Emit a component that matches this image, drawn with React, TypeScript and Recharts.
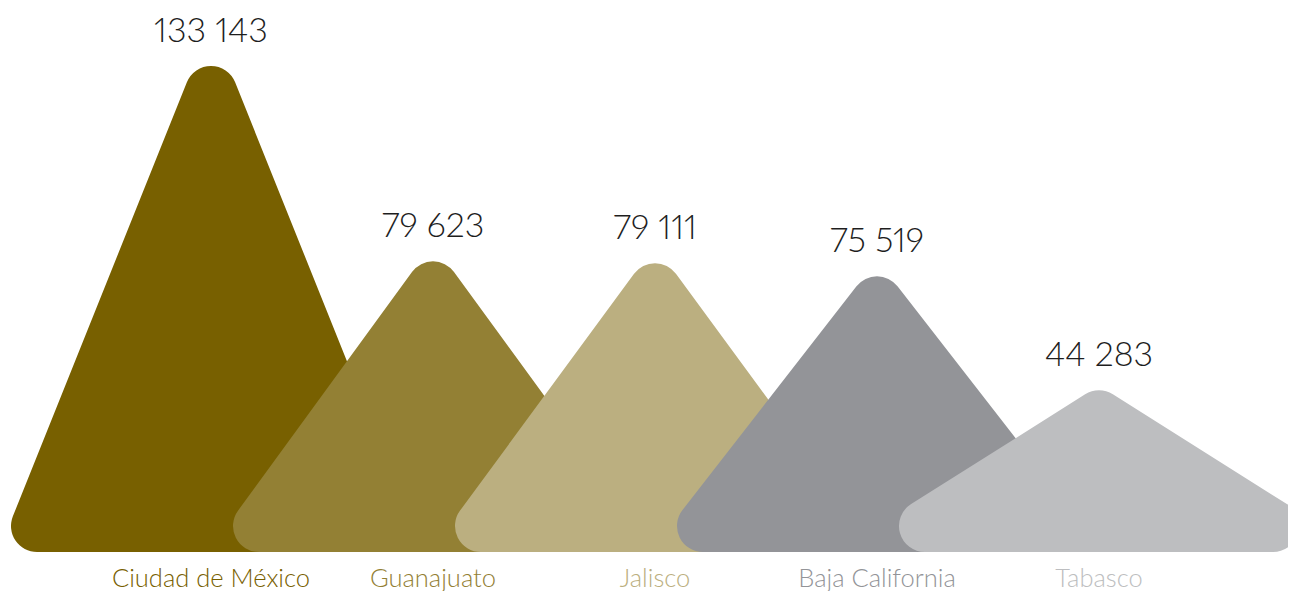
import React from 'react';
import { BarChart, Bar, XAxis, YAxis, LabelList } from 'recharts';

const categories = ['Ciudad de México', 'Guanajuato', 'Jalisco', 'Baja California', 'Tabasco'];
const values = [133143, 79623, 79111, 75519, 44283];
const colors = ['#786000', '#938034', '#bbaf80', '#939498', '#bdbec0'];

const data = categories.map((name, i) => ({ name, value: values[i] }));

const FONT = 'Lato, "Open Sans", "Noto Sans", sans-serif';
const HALF_EXTENT = 200;
const R_TOP = 26;
const R_BASE = 26;

const fmt = (v: number) => String(v).replace(/\B(?=(\d{3})+(?!\d))/g, ' ');

function peakPath(cx: number, yTop: number, yb: number) {
  let W = HALF_EXTENT;
  let apex = yTop;
  for (let i = 0; i < 30; i++) {
    const Ha = yb - apex;
    const theta = Math.atan(W / Ha);
    apex = yTop - R_TOP * (1 / Math.sin(theta) - 1);
    const Ha2 = yb - apex;
    const alpha = Math.atan(Ha2 / W);
    W = HALF_EXTENT + R_BASE * (1 / Math.tan(alpha / 2) - 1);
  }
  const Ha = yb - apex;
  const theta = Math.atan(W / Ha);
  const alpha = Math.atan(Ha / W);
  const s = Math.sqrt(W * W + Ha * Ha);
  const ux = W / s;
  const uy = Ha / s;
  const tA = R_TOP / Math.tan(theta);
  const tB = R_BASE / Math.tan(alpha / 2);
  const Lx = cx - W, Rx = cx + W;
  const p = [
    `M ${cx} ${yb}`,
    `L ${Rx - tB} ${yb}`,
    `A ${R_BASE} ${R_BASE} 0 0 0 ${Rx - tB * ux} ${yb - tB * uy}`,
    `L ${cx + tA * ux} ${apex + tA * uy}`,
    `A ${R_TOP} ${R_TOP} 0 0 0 ${cx - tA * ux} ${apex + tA * uy}`,
    `L ${Lx + tB * ux} ${yb - tB * uy}`,
    `A ${R_BASE} ${R_BASE} 0 0 0 ${Lx + tB} ${yb}`,
    'Z',
  ];
  return p.join(' ');
}

const PeakShape = (props: any) => {
  const { x, y, width, height, index } = props;
  if (width == null || height == null) return null;
  const cx = x + width / 2;
  return <path d={peakPath(cx, y, y + height)} fill={colors[index % colors.length]} />;
};

const CategoryTick = (props: any) => {
  const { x, y, payload } = props;
  const i = categories.indexOf(payload.value);
  return (
    <text x={x} y={y} dy={35} textAnchor="middle" fill={colors[i]} fontFamily={FONT} fontSize={25.5} fontWeight={300}>
      {payload.value}
    </text>
  );
};

const ValueLabel = (props: any) => {
  const { x, y, width, value } = props;
  return (
    <text
      x={x + width / 2}
      y={y - 24}
      textAnchor="middle"
      fill="#1e1e1e"
      fontFamily={FONT}
      fontSize={34}
      fontWeight={300}
      style={{ fontVariantNumeric: 'proportional-nums' }}
    >
      {fmt(value)}
    </text>
  );
};

export default function App() {
  return (
    <BarChart
      width={1288}
      height={583}
      data={data}
      margin={{ top: 58, right: 86, bottom: 0, left: 92 }}
      barCategoryGap={0}
    >
      <XAxis
        dataKey="name"
        axisLine={false}
        tickLine={false}
        tickSize={0}
        tickMargin={0}
        height={39}
        interval={0}
        tick={<CategoryTick />}
      />
      <YAxis hide domain={[0, 'dataMax']} />
      <Bar dataKey="value" shape={<PeakShape />} isAnimationActive={false}>
        <LabelList dataKey="value" content={<ValueLabel />} />
      </Bar>
    </BarChart>
  );
}
